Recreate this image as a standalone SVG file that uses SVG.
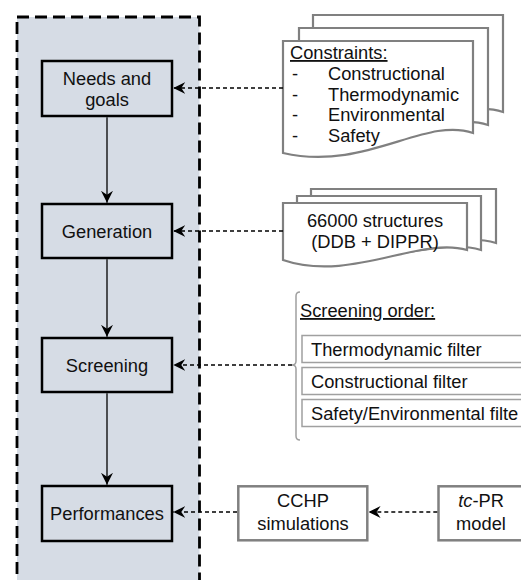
<svg xmlns="http://www.w3.org/2000/svg" width="521" height="580" viewBox="0 0 521 580">
<defs>
<style>
text{font-family:"Liberation Sans",Arial,sans-serif;font-size:18.3px;fill:#111}
.c{text-anchor:middle}
.box{fill:#d6dce5;stroke:#000;stroke-width:2.5}
.gbox{fill:#fff;stroke:#808080;stroke-width:2.5}
.doc{fill:#fff;stroke:#808080;stroke-width:2.2;stroke-linejoin:miter}
.fbox{fill:#fff;stroke:#a0a0a0;stroke-width:1.5}
.solid{fill:none;stroke:#000;stroke-width:1.3}
.dash{fill:none;stroke:#000;stroke-width:1.3;stroke-dasharray:4 3}
</style>
<marker id="ah" viewBox="0 0 12 12" markerWidth="12" markerHeight="12" refX="12" refY="6" orient="auto" markerUnits="userSpaceOnUse">
<path d="M0,0 L12,6 L0,12 L4,6 Z" fill="#000"/>
</marker>
</defs>
<rect id="container" x="17" y="17" width="182.5" height="600" fill="#d6dce5" stroke="#000" stroke-width="2.8" stroke-dasharray="12 6"/>

<g id="needs">
<rect class="box" x="42" y="61" width="130" height="55"/>
<text class="c" x="107" y="85">Needs and</text>
<text class="c" x="107" y="106">goals</text>
</g>
<g id="generation">
<rect class="box" x="42" y="204" width="130" height="54"/>
<text class="c" x="107" y="237.5">Generation</text>
</g>
<g id="screening">
<rect class="box" x="42" y="338" width="130" height="54"/>
<text class="c" x="107" y="372">Screening</text>
</g>
<g id="performances">
<rect class="box" x="42" y="486" width="130" height="55"/>
<text class="c" x="107" y="520">Performances</text>
</g>

<g id="constraints">
<path class="doc" d="M313,15 H503 V112 C455,95 395,151 313,132 Z"/>
<path class="doc" d="M299,28 H488 V125 C440,108 380,164 299,145 Z"/>
<path class="doc" d="M283,41 H473 V133 C425,116 365,172 283,153 Z"/>
<text x="290" y="59" text-decoration="underline">Constraints:</text>
<text x="292" y="80">-</text><text x="328" y="80">Constructional</text>
<text x="292" y="100.5">-</text><text x="328" y="100.5">Thermodynamic</text>
<text x="292" y="121">-</text><text x="328" y="121">Environmental</text>
<text x="292" y="141.5">-</text><text x="328" y="141.5">Safety</text>
</g>

<g id="structures">
<path class="doc" d="M311,189 H496 V243 C450,229 380,266 311,246 Z"/>
<path class="doc" d="M297,196 H481 V250 C435,236 365,273 297,253 Z"/>
<path class="doc" d="M283,203 H467 V250 C420,236 350,283 283,260 Z"/>
<text class="c" x="375" y="227">66000 structures</text>
<text class="c" x="375" y="248">(DDB + DIPPR)</text>
</g>

<g id="screening-order">
<path d="M300,292 Q296,292 296,296 V361 Q296,365 292,365 Q296,365 296,369 V436 Q296,440 300,440" fill="none" stroke="#a0a0a0" stroke-width="1.5"/>
<text x="300" y="317" text-decoration="underline">Screening order:</text>
<rect class="fbox" x="302" y="335.5" width="230" height="27"/>
<text x="311" y="355.5">Thermodynamic filter</text>
<rect class="fbox" x="302" y="367.5" width="230" height="27"/>
<text x="311" y="387.5">Constructional filter</text>
<rect class="fbox" x="302" y="399.5" width="230" height="27"/>
<text x="311" y="419.5">Safety/Environmental filte</text>
</g>

<g id="cchp">
<rect class="gbox" x="238.3" y="486.3" width="129" height="54"/>
<text class="c" x="303" y="507">CCHP</text>
<text class="c" x="303" y="530">simulations</text>
</g>
<g id="tcpr">
<rect class="gbox" x="438.5" y="486.3" width="86" height="54"/>
<text class="c" x="481" y="507"><tspan font-style="italic">tc</tspan>-PR</text>
<text class="c" x="481" y="530">model</text>
</g>

<g id="connectors">
<line class="solid" x1="107" y1="117.3" x2="107" y2="202.8" marker-end="url(#ah)"/>
<line class="solid" x1="107" y1="259.3" x2="107" y2="336.8" marker-end="url(#ah)"/>
<line class="solid" x1="107" y1="393.3" x2="107" y2="484.8" marker-end="url(#ah)"/>
<line class="dash" x1="283" y1="88" x2="173.3" y2="88" marker-end="url(#ah)"/>
<line class="dash" x1="283" y1="231" x2="173.3" y2="231" marker-end="url(#ah)"/>
<line class="dash" x1="292" y1="365" x2="173.3" y2="365" marker-end="url(#ah)"/>
<line class="dash" x1="237" y1="512" x2="173.3" y2="512" marker-end="url(#ah)"/>
<line class="dash" x1="437.3" y1="512" x2="368.6" y2="512" marker-end="url(#ah)"/>
</g>
</svg>
